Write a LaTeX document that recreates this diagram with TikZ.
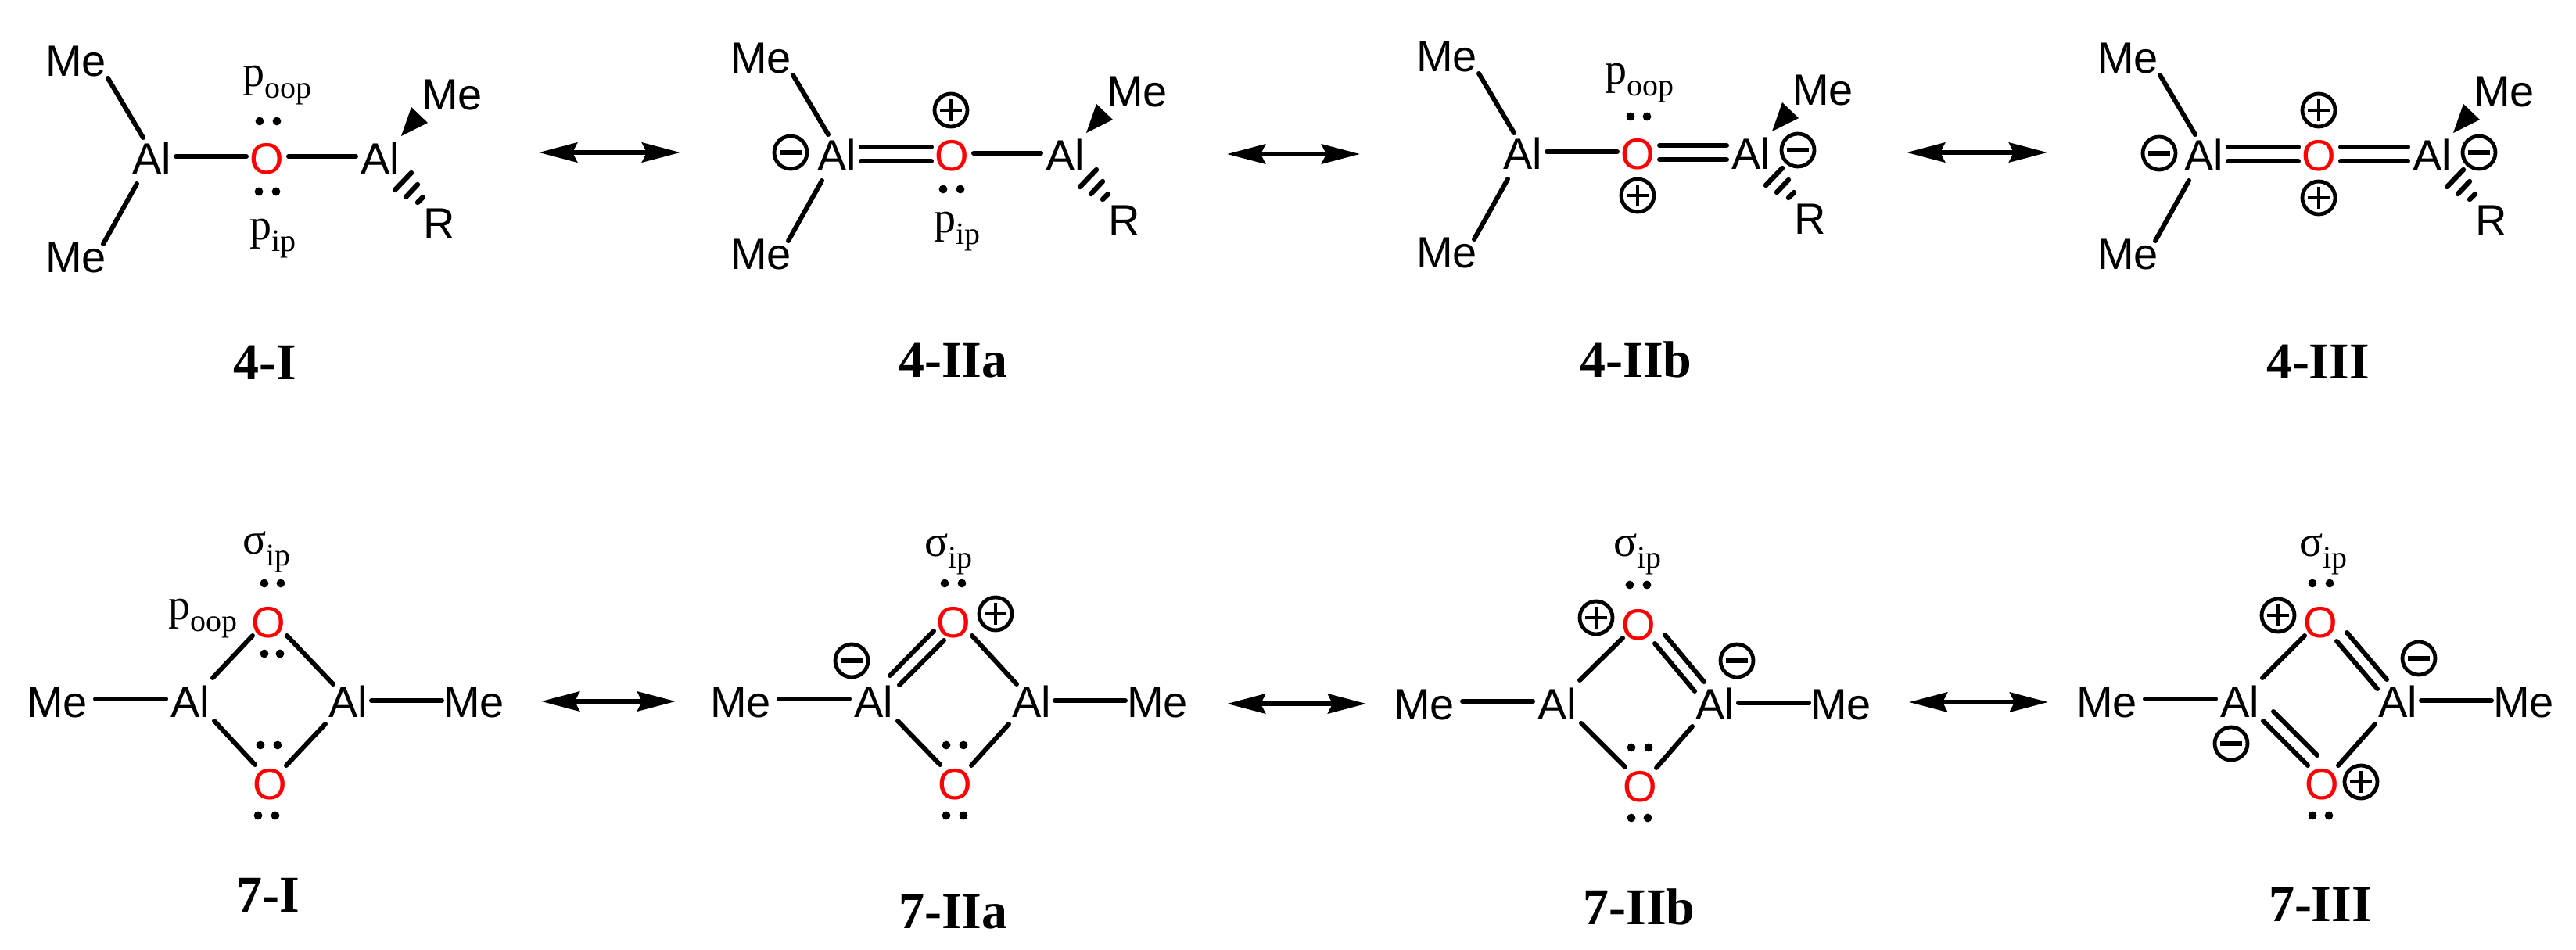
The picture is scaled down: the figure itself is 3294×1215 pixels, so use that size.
\documentclass[tikz,border=0pt]{standalone}
\usepackage{fontspec}
\setmainfont{Liberation Serif}
\newfontfamily\arialfam{Liberation Sans}
\usetikzlibrary{arrows.meta}
\newcommand\orbl[2]{#1\raisebox{-7.5pt}{\fontsize{20}{20}\selectfont #2}}
\tikzset{
  x=0.5pt,y=-0.5pt,
  atom/.style={anchor=base,inner sep=0pt,font=\arialfam\fontsize{28}{28}\selectfont},
  oxy/.style={atom,text=red},
  orbital/.style={anchor=base,inner sep=0pt,font=\fontsize{28}{28}\selectfont},
  molname/.style={anchor=base,inner sep=0pt,font=\bfseries\fontsize{33}{33}\selectfont},
  bond/.style={line width=3pt,line cap=round},
  hashbar/.style={line width=3.2pt,line cap=round},
  resonance/.style={line width=3pt,{Stealth[length=24.5pt,width=12.5pt,inset=3pt]}-{Stealth[length=24.5pt,width=12.5pt,inset=3pt]}},
  charge/.style={circle,draw,line width=2.4pt,minimum size=21pt,inner sep=0pt},
  pluscharge/.style={charge,path picture={
    \draw[line width=2.4pt] ([xshift=-6.8pt]path picture bounding box.center) -- ([xshift=6.8pt]path picture bounding box.center);
    \draw[line width=2.4pt] ([yshift=-6.8pt]path picture bounding box.center) -- ([yshift=6.8pt]path picture bounding box.center);}},
  minuscharge/.style={charge,path picture={
    \draw[line width=2.8pt] ([xshift=-6.8pt]path picture bounding box.center) -- ([xshift=6.8pt]path picture bounding box.center);}}
}
\newcommand\bnd[4]{\draw[bond] ([shift={#2}]#1.base) -- ([shift={#4}]#3.base);}
\newcommand\lp[2]{\fill ([shift={#2}]#1.base) circle (2.7pt);}
% top family: prefix, dx, dy
\newcommand\topmol[3]{
  \node[atom] (#1mt) at ({#2+97},{#3+97}) {Me};
  \node[atom] (#1mb) at ({#2+97},{#3+348}) {Me};
  \node[atom] (#1al) at ({#2+194},{#3+222}) {Al};
  \node[oxy]  (#1o)  at ({#2+341},{#3+222}) {O};
  \node[atom] (#1ar) at ({#2+486},{#3+222}) {Al};
  \node[atom] (#1mr) at ({#2+578},{#3+140}) {Me};
  \node[atom] (#1r)  at ({#2+562},{#3+305}) {R};
  \bnd{#1mt}{(41,3)}{#1al}{(-11,-46)}
  \bnd{#1al}{(-19,13)}{#1mb}{(35,-36)}
  \fill[line join=round] ([shift={(27,-48)}]#1ar.base) -- ([shift={(-52,-3)}]#1mr.base) -- ([shift={(-31,17)}]#1mr.base) -- cycle;
  \draw[hashbar] ([shift={(40,-1)}]#1ar.base) -- ([shift={(19,21)}]#1ar.base);
  \draw[hashbar] ([shift={(48,14)}]#1ar.base) -- ([shift={(33,30)}]#1ar.base);
  \draw[hashbar] ([shift={(55,30)}]#1ar.base) -- ([shift={(48,37)}]#1ar.base);
}
\newcommand\lsingle[1]{\bnd{#1al}{(31,-22)}{#1o}{(-26,-22)}}
\newcommand\ldouble[1]{\bnd{#1al}{(31,-30)}{#1o}{(-26,-30)}\bnd{#1al}{(31,-12)}{#1o}{(-26,-12)}}
\newcommand\rsingle[1]{\bnd{#1o}{(28,-22)}{#1ar}{(-31,-22)}}
\newcommand\rdouble[1]{\bnd{#1o}{(28,-30)}{#1ar}{(-31,-30)}\bnd{#1o}{(28,-12)}{#1ar}{(-31,-12)}}
% bottom family: prefix, dx, dy, extra dx of oxygens
\newcommand\botmol[4]{
  \node[atom] (#1ml) at ({#2+73},{#3+917}) {Me};
  \node[atom] (#1al) at ({#2+243},{#3+917}) {Al};
  \node[atom] (#1ar) at ({#2+445},{#3+917}) {Al};
  \node[atom] (#1mr) at ({#2+606},{#3+917}) {Me};
  \node[oxy]  (#1ot) at ({#2+#4+343},{#3+815}) {O};
  \node[oxy]  (#1ob) at ({#2+#4+345},{#3+1022}) {O};
  \bnd{#1ml}{(49,-23)}{#1al}{(-31,-23)}
  \bnd{#1ar}{(30,-21)}{#1mr}{(-41,-21)}
}
\newcommand\tlsingle[1]{\bnd{#1al}{(29,-50)}{#1ot}{(-20,-2)}}
\newcommand\trsingle[1]{\bnd{#1ot}{(24,-2)}{#1ar}{(-19,-42)}}
\newcommand\blsingle[1]{\bnd{#1al}{(31,5)}{#1ob}{(-19,-44)}}
\newcommand\brsingle[1]{\bnd{#1ar}{(-29,9)}{#1ob}{(21,-43)}}
\newcommand\tldouble[1]{\bnd{#1al}{(21,-53)}{#1ot}{(-25,-8)}\bnd{#1al}{(33,-41)}{#1ot}{(-12,4)}}
\newcommand\trdouble[1]{\bnd{#1ot}{(34,-6)}{#1ar}{(-14,-48)}\bnd{#1ot}{(21,5)}{#1ar}{(-26,-36)}}
\newcommand\bldouble[1]{\bnd{#1al}{(43,-7)}{#1ob}{(-6,-56)}\bnd{#1al}{(30,5)}{#1ob}{(-18,-43)}}
\begin{document}
\begin{tikzpicture}
\useasboundingbox (0,0) rectangle (3294,1215);
% ---- 4-I
\topmol{ta}{0}{0}
\lsingle{ta}\rsingle{ta}
\lp{tao}{(-9,-67)}\lp{tao}{(13,-67)}\lp{tao}{(-10,23)}\lp{tao}{(12,23)}
\node[orbital] (taoop) at (354,110) {\orbl{p}{oop}};
\node[orbital] (taip) at (349,306) {\orbl{p}{ip}};
\node[molname] (tan) at (339,485) {4-I};
% ---- 4-IIa
\topmol{tb}{876}{-4}
\ldouble{tb}\rsingle{tb}
\lp{tbo}{(-11,24)}\lp{tbo}{(11,24)}
\node[orbital] (tbip) at (1224,297) {\orbl{p}{ip}};
\node[minuscharge] (tbm) at (1011,195) {};
\node[pluscharge] (tbp) at (1216,141) {};
\node[molname] (tbn) at (1219,482) {4-IIa};
% ---- 4-IIb
\topmol{tc}{1753}{-6}
\lsingle{tc}\rdouble{tc}
\lp{tco}{(-9,-67)}\lp{tco}{(12,-67)}
\node[orbital] (tcoop) at (2096,107) {\orbl{p}{oop}};
\node[pluscharge] (tcp) at (2094,250) {};
\node[minuscharge] (tcm) at (2299,192) {};
\node[molname] (tcn) at (2092,482) {4-IIb};
% ---- 4-III
\topmol{td}{2624}{-4}
\ldouble{td}\rdouble{td}
\node[pluscharge] (tdp1) at (2965,141) {};
\node[pluscharge] (tdp2) at (2965,253) {};
\node[minuscharge] (tdm1) at (2761,196) {};
\node[minuscharge] (tdm2) at (3170,195) {};
\node[molname] (tdn) at (2964,484) {4-III};
% ---- 7-I
\botmol{ba}{0}{0}{0}
\tlsingle{ba}\trsingle{ba}\blsingle{ba}\brsingle{ba}
\lp{baot}{(-5,-69)}\lp{baot}{(16,-69)}\lp{baot}{(-5,21)}\lp{baot}{(15,21)}
\lp{baob}{(-12,-69)}\lp{baob}{(10,-69)}\lp{baob}{(-15,21)}\lp{baob}{(7,21)}
\node[orbital] (basig) at (341,708) {\orbl{σ}{ip}};
\node[orbital] (baoop) at (259,792) {\orbl{p}{oop}};
\node[molname] (ban) at (343,1166) {7-I};
% ---- 7-IIa
\botmol{bb}{874}{0}{2}
\tldouble{bb}\trsingle{bb}\blsingle{bb}\brsingle{bb}
\lp{bbot}{(-11,-69)}\lp{bbot}{(11,-69)}
\lp{bbob}{(-11,-69)}\lp{bbob}{(11,-69)}\lp{bbob}{(-11,21)}\lp{bbob}{(11,21)}
\node[orbital] (bbsig) at (1213,711) {\orbl{σ}{ip}};
\node[minuscharge] (bbm) at (1089,845) {};
\node[pluscharge] (bbp) at (1273,785) {};
\node[molname] (bbn) at (1219,1187) {7-IIa};
% ---- 7-IIb
\botmol{bc}{1748}{3}{4}
\tlsingle{bc}\trdouble{bc}\blsingle{bc}\brsingle{bc}
\lp{bcot}{(-11,-70)}\lp{bcot}{(11,-70)}
\lp{bcob}{(-11,-69)}\lp{bcob}{(11,-69)}\lp{bcob}{(-11,21)}\lp{bcob}{(10,21)}
\node[orbital] (bcsig) at (2094,711) {\orbl{σ}{ip}};
\node[pluscharge] (bcp) at (2041,790) {};
\node[minuscharge] (bcm) at (2221,845) {};
\node[molname] (bcn) at (2096,1182) {7-IIb};
% ---- 7-III
\botmol{bd}{2621}{0}{3}
\tlsingle{bd}\trdouble{bd}\bldouble{bd}\brsingle{bd}
\lp{bdot}{(-10,-69)}\lp{bdot}{(12,-69)}
\lp{bdob}{(-12,21)}\lp{bdob}{(9,21)}
\node[orbital] (bdsig) at (2971,711) {\orbl{σ}{ip}};
\node[pluscharge] (bdp1) at (2913,787) {};
\node[pluscharge] (bdp2) at (3019,1000) {};
\node[minuscharge] (bdm1) at (3093,842) {};
\node[minuscharge] (bdm2) at (2853,951) {};
\node[molname] (bdn) at (2967,1178) {7-III};
% ---- resonance arrows
\coordinate (a1l) at (689,195); \coordinate (a1r) at (870,195);
\coordinate (a2l) at (1569,197); \coordinate (a2r) at (1739,197);
\coordinate (a3l) at (2438,195); \coordinate (a3r) at (2618,195);
\coordinate (a4l) at (692,897); \coordinate (a4r) at (864,897);
\coordinate (a5l) at (1569,900); \coordinate (a5r) at (1747,900);
\coordinate (a6l) at (2441,898); \coordinate (a6r) at (2619,898);
\draw[resonance] (a1l) -- (a1r);
\draw[resonance] (a2l) -- (a2r);
\draw[resonance] (a3l) -- (a3r);
\draw[resonance] (a4l) -- (a4r);
\draw[resonance] (a5l) -- (a5r);
\draw[resonance] (a6l) -- (a6r);
\end{tikzpicture}
\end{document}
